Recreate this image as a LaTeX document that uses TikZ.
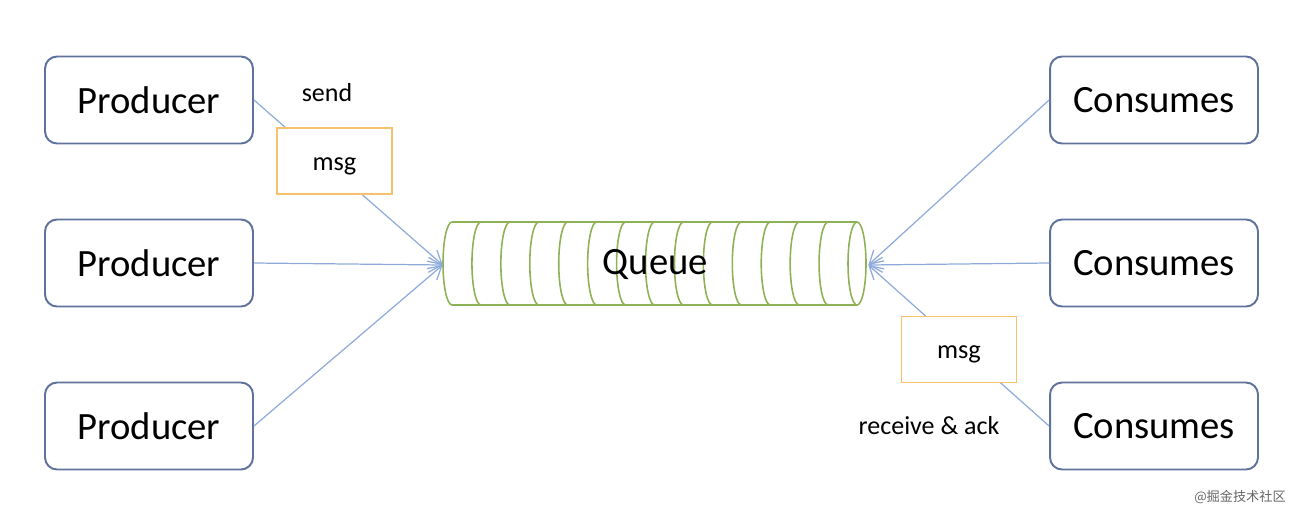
\documentclass[tikz,border=0pt]{standalone}
\usepackage{fontspec}
\setmainfont{Carlito}
\newfontfamily\cjkfont{Noto Sans CJK SC}
\usepackage{tikz}
\usetikzlibrary{arrows.meta, positioning}
\definecolor{boxblue}{HTML}{5E729C}
\definecolor{linkblue}{HTML}{8EAADB}
\definecolor{qgreen}{HTML}{8DB255}
\definecolor{msgorange}{HTML}{F7C26E}
\tikzset{
  endbox/.style={rectangle,draw=boxblue,line width=1.1pt,rounded corners=0.24cm,minimum width=4.16cm,minimum height=1.74cm,inner sep=0pt,font=\fontsize{22}{26}\selectfont},
  msgbox/.style={rectangle,draw=msgorange,fill=white,line width=0.8pt,minimum width=2.3cm,minimum height=1.32cm,inner sep=0pt,text height=10.8pt,text depth=0pt,font=\fontsize{15}{18}\selectfont},
  qline/.style={draw=qgreen,line width=0.9pt},
  flow/.style={-{Straight Barb[length=2.6mm,width=3mm]},linkblue,line width=0.7pt},
  smalltxt/.style={font=\fontsize{14.8}{18}\selectfont,inner sep=0pt},
}

\begin{document}
\begin{tikzpicture}[x=0.02cm,y=-0.02cm]
  \useasboundingbox (0,0) rectangle (1298,514);
  \node[endbox] (prodA) at (149,100) {Producer};
  \node[endbox] (prodB) at (149,263) {Producer};
  \node[endbox] (prodC) at (149,426) {Producer};
  \node[endbox] (consA) at (1154,100) {Consumes};
  \node[endbox] (consB) at (1154,263) {Consumes};
  \node[endbox] (consC) at (1154,426) {Consumes};
  % queue drawn as a striped cylinder
  \draw[qline] (452,222) -- (857,222) (452,305) -- (857,305);
  \foreach \k in {0,...,13}
    \draw[qline] ({452+28.93*\k},222) arc[start angle=90,end angle=270,x radius=0.18cm,y radius=0.83cm];
  \draw[qline] (857,263.5) ellipse[x radius=0.18cm,y radius=0.83cm];
  \node[minimum width=8.5cm,minimum height=1.66cm,inner sep=0pt,font=\fontsize{22}{26}\selectfont] (queue) at (655.5,265) {Queue};
  \draw[flow] (prodA.east) -- (queue.west);
  \draw[flow] (prodB.east) -- (queue.west);
  \draw[flow] (prodC.east) -- (queue.west);
  \draw[flow] (consA.west) -- (queue.east);
  \draw[flow] (consB.west) -- (queue.east);
  \draw[flow] (consC.west) -- (queue.east);
  \node[msgbox] (msgA) at (334.5,161) {msg};
  \node[msgbox] (msgB) at (959,349.5) {msg};
  \node[smalltxt] (sendlbl) at (327,93) {send};
  \node[smalltxt] (recvlbl) at (929,426) {receive \& ack};
  \node[font=\cjkfont\fontsize{7.5}{9}\selectfont,text=black!60,inner sep=0pt] (mark) at (1240,497) {@掘金技术社区};
\end{tikzpicture}
\end{document}
